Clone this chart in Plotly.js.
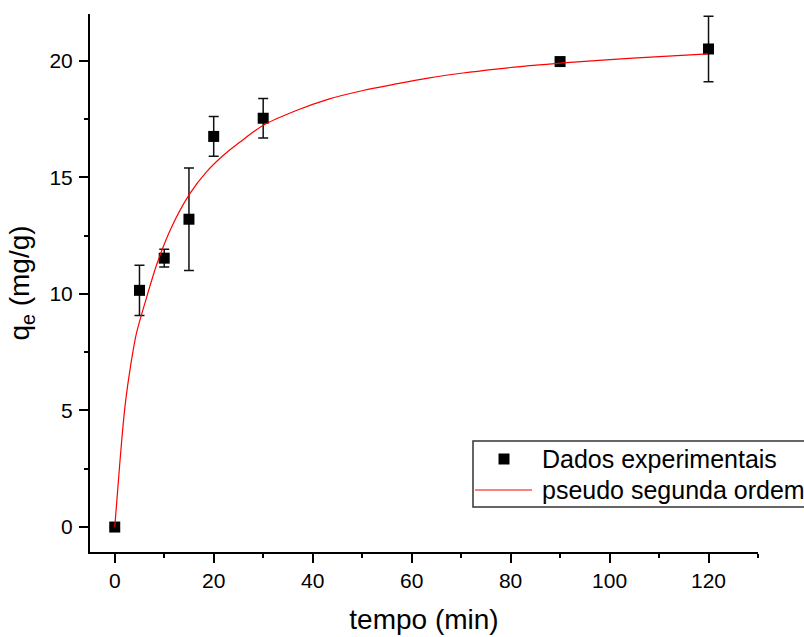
<!DOCTYPE html>
<html>
<head>
<meta charset="utf-8">
<script src="https://cdn.plot.ly/plotly-3.0.1.min.js"></script>
<style>html,body{margin:0;padding:0;background:#fff;}#chart{width:804px;height:637px;}</style>
</head>
<body>
<div id="chart"></div>
<script>
const tempo = [0, 5, 10, 15, 20, 30, 90, 120];
const qeDados = [0, 10.15, 11.53, 13.2, 16.75, 17.53, 19.96, 20.5];
const erroDados = [0, 1.08, 0.38, 2.2, 0.85, 0.85, 0, 1.4];

// Fitted curve points (pseudo segunda ordem)
const tempoAjuste = [0, 0.47, 1.48, 2.22, 3.17, 4.38, 6.26, 8.55, 11.45, 15.15, 18.5, 21.9, 25.25, 29.96, 36.7, 43.4, 50.2, 56.9, 63.6, 70.4, 77.1, 83.8, 89.9, 104.7, 119.9];
const qeAjuste = [0, 1.25, 3.9, 5.44, 6.87, 8.3, 9.72, 11.3, 12.85, 14.29, 15.22, 15.93, 16.5, 17.22, 17.86, 18.36, 18.72, 19.0, 19.26, 19.47, 19.64, 19.79, 19.89, 20.11, 20.29];

const xTickVals = [0, 20, 40, 60, 80, 100, 120];
const yTickVals = [0, 5, 10, 15, 20];
const legendNames = ['Dados experimentais', 'pseudo segunda ordem'];

const fontFamily = 'Liberation Sans, Arial, sans-serif';

const W = 804, H = 637;
const M = {l: 90, r: 46, t: 14, b: 85};
const pw = W - M.l - M.r, ph = H - M.t - M.b;
const px2x = p => (p - M.l) / pw;
const px2y = p => (H - M.b - p) / ph;

const traces = [
  {
    x: tempo, y: qeDados, type: 'scatter', mode: 'markers',
    name: legendNames[0],
    marker: {symbol: 'square', size: 11, color: '#000'},
    error_y: {type: 'data', array: erroDados, visible: true, color: '#111', thickness: 1.5, width: 5}
  },
  {
    x: tempoAjuste, y: qeAjuste, type: 'scatter', mode: 'lines',
    name: legendNames[1],
    line: {color: '#ff0000', width: 1.2, shape: 'spline', smoothing: 0.8}
  }
];

const axisCommon = {
  showline: true, linewidth: 2, linecolor: '#000',
  ticks: 'outside', ticklen: 9, tickwidth: 2, tickcolor: '#000',
  showgrid: false, zeroline: false, mirror: false,
  tickfont: {family: fontFamily, size: 21, color: '#000'}
};

// Legend box drawn by hand so it can run off the right edge like the reference
const legBox = {x0: 473, x1: 812, y0: 441, y1: 507};
const legRow1 = 459, legRow2 = 490;
const shapes = [
  {type: 'rect', xref: 'paper', yref: 'paper',
   x0: px2x(legBox.x0), x1: px2x(legBox.x1), y0: px2y(legBox.y1), y1: px2y(legBox.y0),
   line: {color: '#333', width: 1.5}, fillcolor: '#fff', layer: 'above'},
  {type: 'rect', xref: 'paper', yref: 'paper',
   x0: px2x(504 - 5.5), x1: px2x(504 + 5.5), y0: px2y(legRow1 + 5.5), y1: px2y(legRow1 - 5.5),
   line: {width: 0}, fillcolor: '#000', layer: 'above'},
  {type: 'line', xref: 'paper', yref: 'paper',
   x0: px2x(475), x1: px2x(532), y0: px2y(legRow2), y1: px2y(legRow2),
   line: {color: '#ff0000', width: 1.2}, layer: 'above'}
];
const annotations = [
  {xref: 'paper', yref: 'paper', x: px2x(540), y: px2y(legRow1), xanchor: 'left', yanchor: 'middle',
   text: legendNames[0], showarrow: false, font: {family: fontFamily, size: 25, color: '#000'}},
  {xref: 'paper', yref: 'paper', x: px2x(540), y: px2y(legRow2), xanchor: 'left', yanchor: 'middle',
   text: legendNames[1], showarrow: false, font: {family: fontFamily, size: 25, color: '#000'}}
];

const layout = {
  width: W, height: H,
  margin: {l: M.l, r: M.r, t: M.t, b: M.b, autoexpand: false},
  paper_bgcolor: '#fff', plot_bgcolor: '#fff',
  font: {family: fontFamily, color: '#000'},
  showlegend: false,
  xaxis: Object.assign({}, axisCommon, {
    range: [-5, 130], tickvals: xTickVals, ticktext: xTickVals.map(String),
    minor: {dtick: 10, tick0: 0, ticks: 'outside', ticklen: 4, tickwidth: 2, tickcolor: '#000', showgrid: false},
    title: {text: 'tempo (min)', font: {family: fontFamily, size: 28, color: '#000'}, standoff: 18}
  }),
  yaxis: Object.assign({}, axisCommon, {
    range: [-1.07, 22], tickvals: yTickVals, ticktext: yTickVals.map(String),
    ticklabelstandoff: 2,
    minor: {dtick: 2.5, tick0: 0, ticks: 'outside', ticklen: 4, tickwidth: 2, tickcolor: '#000', showgrid: false},
    title: {text: 'q<sub>e</sub> (mg/g)', font: {family: fontFamily, size: 28, color: '#000'}, standoff: 12}
  }),
  shapes: shapes,
  annotations: annotations
};

Plotly.newPlot('chart', traces, layout, {displayModeBar: false, staticPlot: true});
</script>
</body>
</html>
